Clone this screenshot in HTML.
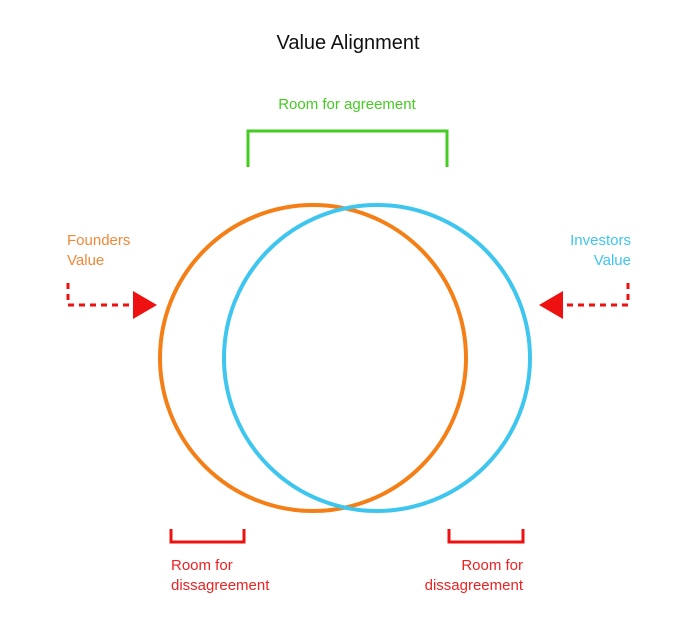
<!DOCTYPE html>
<html><head><style>
body{margin:0;background:#fff;width:696px;height:619px;overflow:hidden}
svg text{font-family:"Liberation Sans",sans-serif}
</style></head><body>
<svg width="696" height="619" viewBox="0 0 696 619">
<text x="348" y="49" font-size="20" text-anchor="middle" fill="#111">Value Alignment</text>
<text x="347" y="109" font-size="15" text-anchor="middle" fill="#44cc22">Room for agreement</text>
<path d="M248 167V131H447V167" fill="none" stroke="#44cc22" stroke-width="3"/>
<circle cx="313" cy="358" r="153" fill="none" stroke="#f57f17" stroke-width="4"/>
<circle cx="377" cy="358" r="153" fill="none" stroke="#3ec6ee" stroke-width="4"/>
<text x="67" y="245" font-size="15" fill="#f0883a">Founders</text>
<text x="67" y="265" font-size="15" fill="#f0883a">Value</text>
<text x="631" y="245" font-size="15" text-anchor="end" fill="#3ec6ee">Investors</text>
<text x="631" y="265" font-size="15" text-anchor="end" fill="#3ec6ee">Value</text>
<path d="M68 283V305H133" fill="none" stroke="#ee1111" stroke-width="3" stroke-dasharray="6,5"/>
<polygon points="133,291 157,305 133,319" fill="#ee1111"/>
<path d="M628 283V305H563" fill="none" stroke="#ee1111" stroke-width="3" stroke-dasharray="6,5"/>
<polygon points="563,291 539,305 563,319" fill="#ee1111"/>
<path d="M171 529V542H244V529" fill="none" stroke="#ee1111" stroke-width="3"/>
<path d="M449 529V542H523V529" fill="none" stroke="#ee1111" stroke-width="3"/>
<text x="171" y="570" font-size="15" fill="#ee2222">Room for</text>
<text x="171" y="590" font-size="15" fill="#ee2222">dissagreement</text>
<text x="523" y="570" font-size="15" text-anchor="end" fill="#ee2222">Room for</text>
<text x="523" y="590" font-size="15" text-anchor="end" fill="#ee2222">dissagreement</text>
</svg>
</body></html>
